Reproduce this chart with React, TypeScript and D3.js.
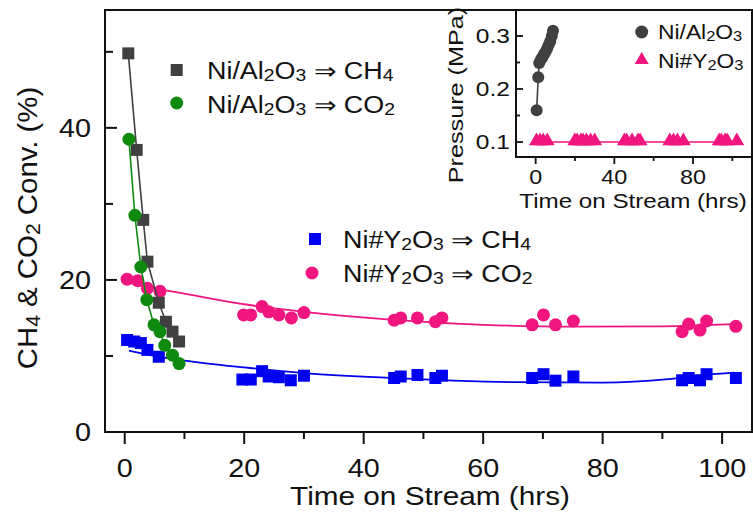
import React from "react";
import * as d3 from "d3";

// ---------- Main panel data ----------
const alCH4Time = [0.6, 2, 3.1, 3.8, 5.7, 6.9, 8, 9.1];
const alCH4Conv = [49.8, 37.1, 27.9, 22.4, 17.0, 14.5, 13.2, 11.9];

const alCO2Time = [0.7, 1.7, 2.7, 3.7, 4.9, 5.9, 6.7, 8, 9.1];
const alCO2Conv = [38.5, 28.5, 21.7, 17.4, 14.1, 13.2, 11.4, 10.1, 9.0];

const yTime = [0.4, 2.2, 3.8, 5.9, 19.9, 21.1, 23, 24.1, 25.8, 27.9, 30, 45.1, 46.2, 49, 52, 53.1, 68.2, 70.1, 72.1, 75.1, 93.3, 94.4, 96.3, 97.4, 102.3];
const yCO2Conv = [20.1, 19.9, 18.9, 18.5, 15.4, 15.4, 16.5, 15.8, 15.4, 15.0, 15.7, 14.7, 15.0, 15.0, 14.5, 15.0, 14.1, 15.4, 14.1, 14.6, 13.2, 14.2, 13.4, 14.6, 13.9];
const yCH4Time = [0.4, 1.6, 2.7, 3.8, 5.7, 19.7, 21.1, 23, 24.1, 25.8, 27.8, 30, 45.1, 46.2, 49, 52, 53.1, 68.2, 70.1, 72.1, 75.1, 93.3, 94.4, 96.3, 97.4, 102.3];
const yCH4Conv = [12.1, 11.9, 11.7, 10.8, 9.9, 6.9, 6.9, 8.0, 7.3, 7.2, 6.8, 7.4, 7.1, 7.3, 7.5, 7.1, 7.4, 7.1, 7.6, 6.75, 7.3, 6.8, 7.1, 6.8, 7.6, 7.1];

const yCO2FitTime = [0.7, 5, 10, 20, 30, 45, 60, 75, 90, 97, 102];
const yCO2FitConv = [19.6, 18.9, 18.2, 16.8, 15.8, 14.75, 14.1, 13.85, 13.9, 14.05, 14.2];
const yCH4FitTime = [0.7, 5, 10, 20, 30, 45, 55, 65, 80, 91, 97, 102];
const yCH4FitConv = [10.7, 10.0, 9.4, 8.5, 7.75, 7.1, 6.75, 6.55, 6.5, 6.95, 7.5, 7.8];

const xMajorTicks = [0, 20, 40, 60, 80, 100];
const xMinorTicks = [10, 30, 50, 70, 90];
const yMajorTicks = [0, 20, 40];
const yMinorTicks = [10, 30, 50];

// ---------- Inset data ----------
const insetAlTime = [0.5, 1.3, 1.8, 2.6, 3.4, 4.2, 5, 5.8, 6.6, 7.4, 8.2, 8.8];
const insetAlPressure = [0.16, 0.222, 0.249, 0.255, 0.26, 0.265, 0.27, 0.276, 0.283, 0.29, 0.3, 0.31];
const insetYTime = [0.4, 2.2, 3.8, 5.9, 19.9, 21.1, 23, 24.1, 25.8, 27.9, 30, 45.1, 46.2, 49, 52, 53.1, 68.2, 70.1, 72.1, 75.1, 93.3, 94.4, 96.3, 97.4, 102.3];
const insetYPressure = [0.1, 0.1, 0.1, 0.1, 0.1, 0.1, 0.1, 0.1, 0.1, 0.1, 0.1, 0.1, 0.1, 0.1, 0.1, 0.1, 0.1, 0.1, 0.1, 0.1, 0.1, 0.1, 0.1, 0.1, 0.1];
const insetXMajor = [0, 40, 80];
const insetXMinor = [20, 60, 100];
const insetYMajor = [0.1, 0.2, 0.3];
const insetYMinor = [0.15, 0.25];

const FONT = "'Liberation Sans', Arial, Helvetica, sans-serif";
const GRAY = "#404040";
const GREEN = "#0f8a0f";
const BLUE = "#0000f0";
const PINK = "#f0157f";

type TxtProps = {
  x: number; y: number; text: string; size: number; sx?: number;
  anchor?: "start" | "middle" | "end"; rotate?: number; sub?: boolean; fill?: string;
};

function Txt({ x, y, text, size, sx = 1, anchor = "start", rotate = 0, sub = false, fill = "#111" }: TxtProps) {
  const runs: { t: string; s: boolean }[] = [];
  for (const ch of text) {
    const isSub = sub && /[0-9]/.test(ch);
    const last = runs[runs.length - 1];
    if (last && last.s === isSub) last.t += ch;
    else runs.push({ t: ch, s: isSub });
  }
  const shift = size * 0.1;
  let prevSub = false;
  return (
    <text
      transform={`translate(${x},${y}) rotate(${rotate}) scale(${sx},1)`}
      fontSize={size}
      fontFamily={FONT}
      textAnchor={anchor}
      fill={fill}
    >
      {runs.map((r, i) => {
        let dy = 0;
        if (r.s && !prevSub) dy = shift;
        if (!r.s && prevSub) dy = -shift;
        prevSub = r.s;
        return (
          <tspan key={i} dy={dy} fontSize={r.s ? size * 0.72 : size}>
            {r.t}
          </tspan>
        );
      })}
    </text>
  );
}

export default function App() {
  const W = 753, H = 514;
  const x = d3.scaleLinear().domain([-3.3, 105]).range([105, 752]);
  const y = d3.scaleLinear().domain([0, 55.5]).range([432, 10]);

  const ix = d3.scaleLinear().domain([-10, 110]).range([516, 752]);
  const iy = d3.scaleLinear().domain([0.0717, 0.349]).range([157, 10]);

  const lin = d3.line<[number, number]>().x((d) => x(d[0])).y((d) => y(d[1]));
  const smooth = d3
    .line<[number, number]>()
    .x((d) => x(d[0]))
    .y((d) => y(d[1]))
    .curve(d3.curveMonotoneX);
  const ilin = d3.line<[number, number]>().x((d) => ix(d[0])).y((d) => iy(d[1]));

  const zip = (a: number[], b: number[]) => a.map((v, i) => [v, b[i]] as [number, number]);

  const sq = d3.symbol().type(d3.symbolSquare).size(144)()!;
  const tri = d3.symbol().type(d3.symbolTriangle).size(95)()!;
  const triLeg = d3.symbol().type(d3.symbolTriangle).size(85)()!;

  const x0 = 105, x1 = 752, y0 = 10, y1 = 432;
  const ix0 = 516, ix1 = 752, iy0 = 10, iy1 = 157;

  return (
    <svg width={W} height={H} style={{ position: "absolute", left: 0, top: 0, background: "#fff" }}>
      <rect x={0} y={0} width={W} height={H} fill="#fff" />

      {/* fits and lines */}
      <path d={smooth(zip(yCO2FitTime, yCO2FitConv))!} fill="none" stroke={PINK} strokeWidth={1.8} />
      <path d={smooth(zip(yCH4FitTime, yCH4FitConv))!} fill="none" stroke={BLUE} strokeWidth={1.8} />

      {/* pink circles */}
      {yTime.map((t, i) => (
        <circle key={"p" + i} cx={x(t)} cy={y(yCO2Conv[i])} r={6.5} fill={PINK} />
      ))}
      {/* blue squares */}
      {yCH4Time.map((t, i) => (
        <path key={"b" + i} d={sq} transform={`translate(${x(t)},${y(yCH4Conv[i])})`} fill={BLUE} />
      ))}

      <path d={lin(zip(alCH4Time, alCH4Conv))!} fill="none" stroke={GRAY} strokeWidth={1.6} />
      {alCH4Time.map((t, i) => (
        <path key={"g" + i} d={sq} transform={`translate(${x(t)},${y(alCH4Conv[i])})`} fill={GRAY} />
      ))}
      <path d={lin(zip(alCO2Time, alCO2Conv))!} fill="none" stroke={GREEN} strokeWidth={1.6} />
      {alCO2Time.map((t, i) => (
        <circle key={"c" + i} cx={x(t)} cy={y(alCO2Conv[i])} r={6.5} fill={GREEN} />
      ))}

      {/* main frame */}
      <rect x={x0} y={y0} width={x1 - x0} height={y1 - y0} fill="none" stroke="#111" strokeWidth={2} />
      {yMajorTicks.map((v) => (
        <line key={"ym" + v} x1={x0} x2={x0 + 12} y1={y(v)} y2={y(v)} stroke="#111" strokeWidth={2} />
      ))}
      {yMinorTicks.map((v) => (
        <line key={"yn" + v} x1={x0} x2={x0 + 8} y1={y(v)} y2={y(v)} stroke="#111" strokeWidth={2} />
      ))}
      {xMajorTicks.map((v) => (
        <line key={"xm" + v} x1={x(v)} x2={x(v)} y1={y1} y2={y1 + 12} stroke="#111" strokeWidth={2} />
      ))}
      {xMinorTicks.map((v) => (
        <line key={"xn" + v} x1={x(v)} x2={x(v)} y1={y1} y2={y1 + 7} stroke="#111" strokeWidth={2} />
      ))}
      {yMajorTicks.map((v) => (
        <Txt key={"yl" + v} x={91} y={y(v) + 9} text={String(v)} size={25} sx={1.15} anchor="end" />
      ))}
      {xMajorTicks.map((v) => (
        <Txt key={"xl" + v} x={x(v)} y={477} text={String(v)} size={25} sx={1.15} anchor="middle" />
      ))}
      <Txt x={430} y={505} text="Time on Stream (hrs)" size={25} sx={1.19} anchor="middle" />
      <Txt x={37} y={228} text="CH4 & CO2 Conv. (%)" size={28} sx={1.05} anchor="middle" rotate={-90} sub />

      {/* legends */}
      <path d={sq} transform={`translate(176.7,70)`} fill={GRAY} />
      <Txt x={207} y={79} text="Ni/Al2O3 ⇒ CH4" size={23} sx={1.17} sub />
      <circle cx={176.7} cy={103} r={6.5} fill={GREEN} />
      <Txt x={207} y={113} text="Ni/Al2O3 ⇒ CO2" size={23} sx={1.17} sub />

      <path d={sq} transform={`translate(315,239)`} fill={BLUE} />
      <Txt x={343} y={248} text="Ni#Y2O3 ⇒ CH4" size={23} sx={1.17} sub />
      <circle cx={312} cy={273} r={6.5} fill={PINK} />
      <Txt x={343} y={282} text="Ni#Y2O3 ⇒ CO2" size={23} sx={1.17} sub />

      {/* inset */}
      <rect x={ix0} y={iy0} width={ix1 - ix0} height={iy1 - iy0} fill="#fff" />
      <path d={ilin([[0, 0.1], [102.3, 0.1]])!} fill="none" stroke={PINK} strokeWidth={1.6} />
      <path d={ilin(zip(insetAlTime, insetAlPressure))!} fill="none" stroke={GRAY} strokeWidth={1.6} />
      {insetAlTime.map((t, i) => (
        <circle key={"ia" + i} cx={ix(t)} cy={iy(insetAlPressure[i])} r={6} fill={GRAY} />
      ))}
      {insetYTime.map((t, i) => (
        <path key={"iy" + i} d={tri} transform={`translate(${ix(t)},${iy(insetYPressure[i]) - 1})`} fill={PINK} />
      ))}
      <rect x={ix0} y={iy0} width={ix1 - ix0} height={iy1 - iy0} fill="none" stroke="#111" strokeWidth={2} />
      {insetYMajor.map((v) => (
        <line key={"iym" + v} x1={ix0} x2={ix0 + 7} y1={iy(v)} y2={iy(v)} stroke="#111" strokeWidth={1.8} />
      ))}
      {insetYMinor.map((v) => (
        <line key={"iyn" + v} x1={ix0} x2={ix0 + 4} y1={iy(v)} y2={iy(v)} stroke="#111" strokeWidth={1.8} />
      ))}
      {insetXMajor.map((v) => (
        <line key={"ixm" + v} x1={ix(v)} x2={ix(v)} y1={iy1} y2={iy1 + 7} stroke="#111" strokeWidth={1.8} />
      ))}
      {insetXMinor.map((v) => (
        <line key={"ixn" + v} x1={ix(v)} x2={ix(v)} y1={iy1} y2={iy1 + 4} stroke="#111" strokeWidth={1.8} />
      ))}
      {insetYMajor.map((v) => (
        <Txt key={"iyl" + v} x={510} y={iy(v) + 7.5} text={v.toFixed(1)} size={21} sx={1.17} anchor="end" />
      ))}
      {insetXMajor.map((v) => (
        <Txt key={"ixl" + v} x={ix(v)} y={184} text={String(v)} size={20} sx={1.17} anchor="middle" />
      ))}
      <Txt x={633} y={208} text="Time on Stream (hrs)" size={20.5} sx={1.18} anchor="middle" />
      <Txt x={463} y={95} text="Pressure (MPa)" size={21} sx={1.2} anchor="middle" rotate={-90} />

      <circle cx={641.7} cy={32} r={6.5} fill={GRAY} />
      <Txt x={658} y={39} text="Ni/Al2O3" size={19.5} sx={1.17} sub />
      <path d={triLeg} transform={`translate(641.7,60)`} fill={PINK} />
      <Txt x={658} y={68} text="Ni#Y2O3" size={19.5} sx={1.17} sub />
    </svg>
  );
}
